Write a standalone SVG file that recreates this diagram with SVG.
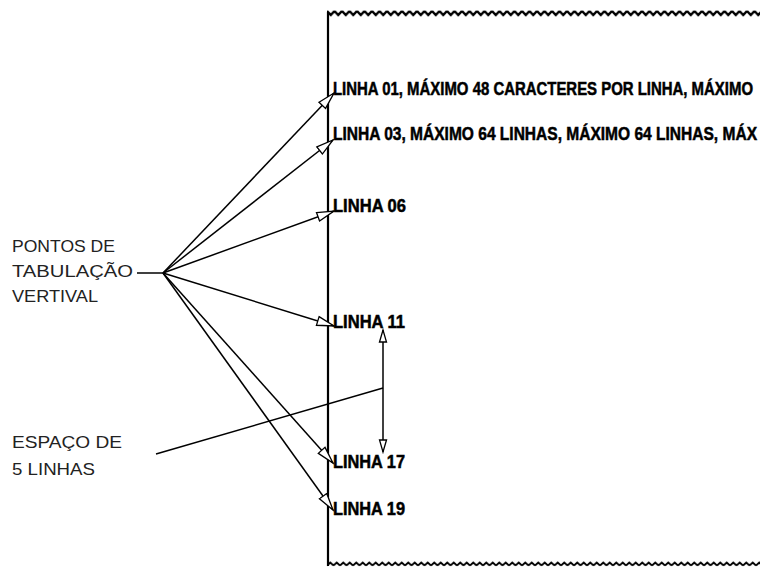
<svg xmlns="http://www.w3.org/2000/svg" width="760" height="569" viewBox="0 0 760 569">
<style>
.lbl{font-family:"Liberation Sans",Arial,sans-serif;font-size:17px;fill:#222;}
.ln{font-family:"Liberation Sans",Arial,sans-serif;font-size:18px;font-weight:bold;fill:#000;stroke:#000;stroke-width:0.5;}
.con{stroke:#000;stroke-width:1.5;fill:none;}
</style>
<defs>
<pattern id="zigTop" x="327" y="9" width="7.5" height="8" patternUnits="userSpaceOnUse">
<polyline points="0,2 3.75,6 7.5,2" fill="none" stroke="#000" stroke-width="2.4"/>
</pattern>
<pattern id="zigBot" x="327" y="560" width="6.5" height="7" patternUnits="userSpaceOnUse">
<polyline points="0,5.5 3.25,2.5 6.5,5.5" fill="none" stroke="#000" stroke-width="1.8"/>
</pattern>
<marker id="ah" markerUnits="userSpaceOnUse" markerWidth="20" markerHeight="12" refX="18" refY="6" orient="auto">
<path d="M1,1.5 L18,6 L1,10.5 Z" fill="#fff" stroke="#000" stroke-width="1.3"/>
</marker>
<marker id="ahs" markerUnits="userSpaceOnUse" markerWidth="15" markerHeight="10" refX="13" refY="5" orient="auto-start-reverse">
<path d="M1,1.5 L13,5 L1,8.5 Z" fill="#fff" stroke="#000" stroke-width="1.3"/>
</marker>
</defs>
<rect width="760" height="569" fill="#fff"/>
<g id="page">
<rect x="327" y="9" width="433" height="8" fill="url(#zigTop)"/>
<rect x="327" y="560" width="433" height="7" fill="url(#zigBot)"/>
<line x1="328" y1="12" x2="328" y2="566" stroke="#000" stroke-width="2.2"/>
</g>
<g id="connectors">
<line class="con" x1="137" y1="273" x2="163" y2="273" stroke-width="2.2"/>
<line class="con" x1="163" y1="273" x2="334" y2="93" marker-end="url(#ah)"/>
<line class="con" x1="163" y1="273" x2="333" y2="140" marker-end="url(#ah)"/>
<line class="con" x1="163" y1="273" x2="334" y2="211" marker-end="url(#ah)"/>
<line class="con" x1="163" y1="273" x2="334" y2="326" marker-end="url(#ah)"/>
<line class="con" x1="163" y1="273" x2="333" y2="463" marker-end="url(#ah)"/>
<line class="con" x1="163" y1="273" x2="333" y2="510" marker-end="url(#ah)"/>
<line class="con" x1="383" y1="330" x2="383" y2="452" marker-start="url(#ahs)" marker-end="url(#ahs)"/>
<line class="con" x1="156" y1="454" x2="383" y2="388"/>
</g>
<g id="label-pontos">
<text class="lbl" x="12" y="252" textLength="103" lengthAdjust="spacingAndGlyphs">PONTOS DE</text>
<text class="lbl" x="12" y="277" textLength="121" lengthAdjust="spacingAndGlyphs">TABULAÇÃO</text>
<text class="lbl" x="12" y="302" textLength="86" lengthAdjust="spacingAndGlyphs">VERTIVAL</text>
</g>
<g id="label-espaco">
<text class="lbl" x="12" y="448" textLength="110" lengthAdjust="spacingAndGlyphs">ESPAÇO DE</text>
<text class="lbl" x="12" y="475" textLength="83" lengthAdjust="spacingAndGlyphs">5 LINHAS</text>
</g>
<g id="linha01"><text class="ln" transform="translate(333,95) scale(0.8,1)" x="0" y="0" textLength="525" lengthAdjust="spacingAndGlyphs">LINHA 01, MÁXIMO 48 CARACTERES POR LINHA, MÁXIMO</text></g>
<g id="linha03"><text class="ln" transform="translate(333,140) scale(0.8,1)" x="0" y="0" textLength="530" lengthAdjust="spacingAndGlyphs">LINHA 03, MÁXIMO 64 LINHAS, MÁXIMO 64 LINHAS, MÁX</text></g>
<g id="linha06"><text class="ln" x="333" y="212" textLength="73" lengthAdjust="spacingAndGlyphs">LINHA 06</text></g>
<g id="linha11"><text class="ln" x="333" y="328" textLength="72" lengthAdjust="spacingAndGlyphs">LINHA 11</text></g>
<g id="linha17"><text class="ln" x="333" y="468" textLength="72" lengthAdjust="spacingAndGlyphs">LINHA 17</text></g>
<g id="linha19"><text class="ln" x="333" y="515" textLength="72" lengthAdjust="spacingAndGlyphs">LINHA 19</text></g>
</svg>
